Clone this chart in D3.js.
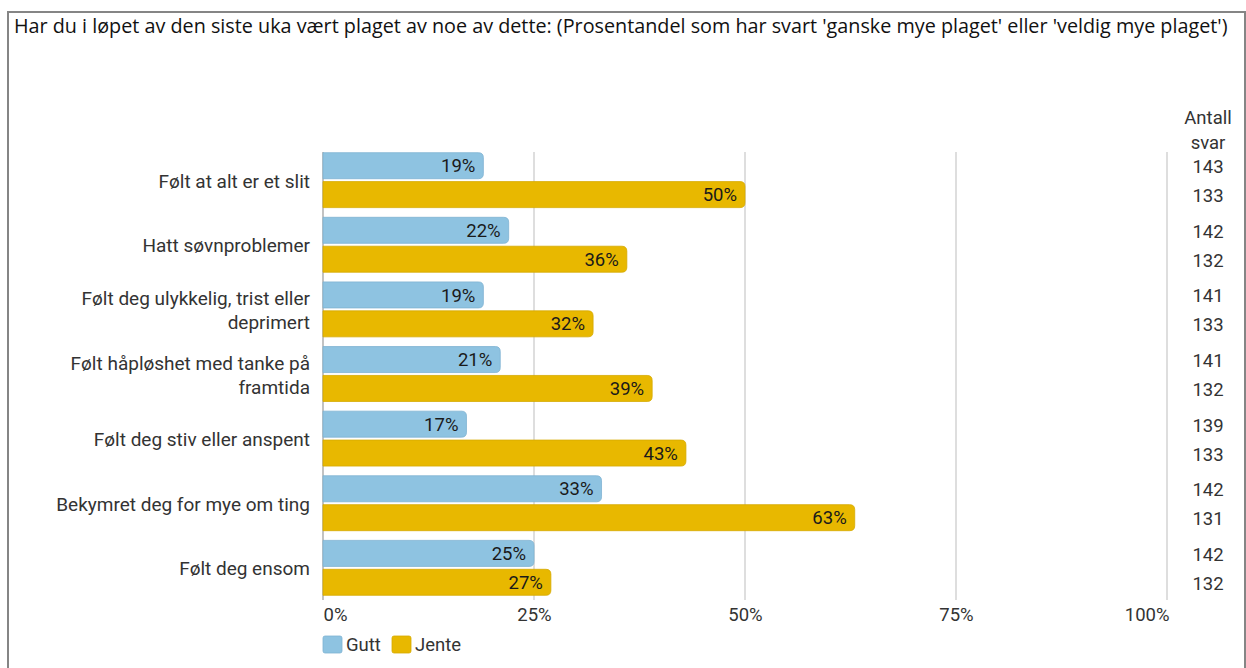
<!DOCTYPE html>
<html>
<head>
<meta charset="utf-8">
<script src="https://cdn.jsdelivr.net/npm/d3@7"></script>
<style>
  html, body { margin: 0; padding: 0; background: #fff; }
  svg { display: block; }
</style>
</head>
<body>
<svg id="chart" width="1246" height="668"></svg>
<script>
const title = "Har du i løpet av den siste uka vært plaget av noe av dette: (Prosentandel som har svart 'ganske mye plaget' eller 'veldig mye plaget')";
const categories = [
  "Følt at alt er et slit",
  "Hatt søvnproblemer",
  "Følt deg ulykkelig, trist eller deprimert",
  "Følt håpløshet med tanke på framtida",
  "Følt deg stiv eller anspent",
  "Bekymret deg for mye om ting",
  "Følt deg ensom"
];
const seriesNames = ["Gutt", "Jente"];
const gutt = [19, 22, 19, 21, 17, 33, 25];
const jente = [50, 36, 32, 39, 43, 63, 27];
const nGutt = [143, 142, 141, 141, 139, 142, 142];
const nJente = [133, 132, 133, 132, 133, 131, 132];
const ticks = [0, 25, 50, 75, 100];
const countHeader = ["Antall", "svar"];

const colors = { Gutt: "#8ec3e1", Jente: "#e8b800" };
const strokes = { Gutt: "#7fb3d2", Jente: "#d6aa00" };
const FONT = "Roboto, sans-serif";

const svg = d3.select("#chart");

// Outer frame
svg.append("rect").attr("x", 8).attr("y", 12).attr("width", 1237).attr("height", 700)
  .attr("fill", "none").attr("stroke", "#858585").attr("stroke-width", 2);

// Title
const t = svg.append("text").attr("x", 14).attr("y", 33)
  .attr("font-family", "'Open Sans', sans-serif").attr("font-size", 16)
  .attr("fill", "#111").text(title);
const tw = t.node().getComputedTextLength();
t.attr("font-size", 16 * 1214 / tw);

const x = d3.scaleLinear().domain([0, 100]).range([323, 1167]);
const y = d3.scaleBand().domain(categories).range([143, 605]).padding(0.15);
const ySub = d3.scaleBand().domain(seriesNames).range([0, y.bandwidth()]).paddingInner(0.1);

const gridTop = 152, gridBottom = 600;

// Grid lines
svg.append("g").selectAll("line").data(ticks).join("line")
  .attr("x1", d => x(d)).attr("x2", d => x(d))
  .attr("y1", gridTop).attr("y2", gridBottom)
  .attr("stroke", d => d === 0 ? "#9a9a9a" : "#c8c8c8").attr("stroke-width", 1.2);

// Axis tick labels
const xAxis = d3.axisBottom(x).tickValues(ticks).tickFormat(d => d + "%").tickSize(0).tickPadding(0);
const ax = svg.append("g").attr("transform", `translate(0,${gridBottom + 8})`).call(xAxis);
ax.select(".domain").remove();
ax.selectAll("text").attr("font-family", FONT).attr("font-size", 18.5).attr("fill", "#333")
  .attr("text-anchor", (d, i) => i === 0 ? "start" : (i === ticks.length - 1 ? "end" : "middle"))
  .attr("dx", (d, i) => i === ticks.length - 1 ? 2 : 0);

// Bars
const rows = categories.map((c, i) => ({ c, vals: [ { s: "Gutt", v: gutt[i] }, { s: "Jente", v: jente[i] } ] }));
function barPath(x0, y0, w, h, r) {
  r = Math.min(r, w);
  return `M${x0},${y0}H${x0 + w - r}Q${x0 + w},${y0} ${x0 + w},${y0 + r}V${y0 + h - r}Q${x0 + w},${y0 + h} ${x0 + w - r},${y0 + h}H${x0}Z`;
}
const grp = svg.append("g").selectAll("g").data(rows).join("g")
  .attr("transform", d => `translate(0,${y(d.c)})`);
grp.selectAll("path").data(d => d.vals).join("path")
  .attr("d", d => barPath(x(0), ySub(d.s), x(d.v) - x(0), ySub.bandwidth(), 5))
  .attr("fill", d => colors[d.s]).attr("stroke", d => strokes[d.s]).attr("stroke-width", 0.8);
grp.selectAll("text").data(d => d.vals).join("text")
  .attr("x", d => x(d.v) - 8)
  .attr("y", d => ySub(d.s) + ySub.bandwidth() / 2)
  .attr("dy", "0.36em")
  .attr("text-anchor", "end")
  .attr("font-family", FONT).attr("font-size", 18.5).attr("fill", "#1a1a1a")
  .text(d => d.v + "%");

// Category labels (wrapped)
const labG = svg.append("g");
const LAB_FS = 19;
categories.forEach(c => {
  const words = c.split(" ");
  const lines = [];
  const tmp = labG.append("text").attr("font-family", FONT).attr("font-size", LAB_FS);
  let cur = "";
  words.forEach(w => {
    const test = cur ? cur + " " + w : w;
    tmp.text(test);
    if (tmp.node().getComputedTextLength() > 262 && cur) { lines.push(cur); cur = w; }
    else cur = test;
  });
  lines.push(cur);
  tmp.remove();
  const cy = y(c) + y.bandwidth() / 2;
  const lh = 24;
  const txt = labG.append("text").attr("font-family", FONT).attr("font-size", LAB_FS)
    .attr("fill", "#333").attr("text-anchor", "end");
  lines.forEach((l, k) => {
    txt.append("tspan").attr("x", 310)
      .attr("y", cy + 1 + (k - (lines.length - 1) / 2) * lh).attr("dy", "0.35em").text(l);
  });
});

// Count column
const cntG = svg.append("g").attr("font-family", FONT).attr("font-size", 18.5).attr("fill", "#333");
countHeader.forEach((h, k) => {
  cntG.append("text").attr("x", 1208).attr("y", 118 + k * 25).attr("dy", "0.35em")
    .attr("text-anchor", "middle").text(h);
});
rows.forEach((r, i) => {
  [nGutt[i], nJente[i]].forEach((n, k) => {
    cntG.append("text").attr("x", 1208)
      .attr("y", y(r.c) + ySub(seriesNames[k]) + ySub.bandwidth() / 2 + 1)
      .attr("dy", "0.35em").attr("text-anchor", "middle").text(n);
  });
});

// Legend
const leg = svg.append("g").attr("font-family", FONT).attr("font-size", 18.5).attr("fill", "#333");
const legPos = [323, 392];
seriesNames.forEach((s, k) => {
  leg.append("rect").attr("x", legPos[k]).attr("y", 636).attr("width", 19).attr("height", 17).attr("rx", 2)
    .attr("fill", colors[s]).attr("stroke", strokes[s]).attr("stroke-width", 0.8);
  leg.append("text").attr("x", legPos[k] + 23).attr("y", 645).attr("dy", "0.35em").text(s);
});
</script>
</body>
</html>
